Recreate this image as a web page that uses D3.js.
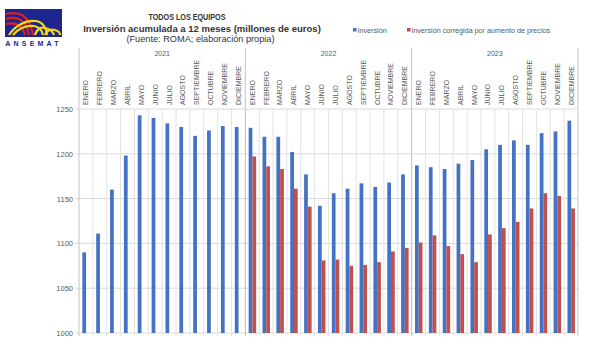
<!DOCTYPE html>
<html>
<head>
<meta charset="utf-8">
<script src="https://cdn.jsdelivr.net/npm/d3@7"></script>
<style>
  html, body { margin: 0; padding: 0; background: #fff; }
  svg { display: block; font-family: "Liberation Sans", Arial, sans-serif; }
</style>
</head>
<body>
<svg id="chart" width="590" height="340"></svg>
<script>
// Month names per year and the three years covered
const monthNames = ["ENERO", "FEBRERO", "MARZO", "ABRIL", "MAYO", "JUNIO", "JULIO",
  "AGOSTO", "SEPTIEMBRE", "OCTUBRE", "NOVIEMBRE", "DICIEMBRE"];
const years = ["2021", "2022", "2023"];

// Rolling 12-month investment (million euros)
const inversion = [
  1090, 1111, 1160, 1198, 1243, 1240, 1234, 1230, 1220, 1226, 1231, 1230,
  1229, 1219, 1219, 1202, 1177, 1142, 1156, 1161, 1167, 1163, 1168, 1177,
  1187, 1185, 1183, 1189, 1193, 1205, 1210, 1215, 1210, 1223, 1225, 1237
];
// Investment corrected for price increases (available from 2022)
const corregida = [
  null, null, null, null, null, null, null, null, null, null, null, null,
  1197, 1186, 1183, 1161, 1141, 1081, 1082, 1075, 1076, 1079, 1091, 1095,
  1101, 1109, 1097, 1088, 1079, 1110, 1117, 1124, 1139, 1156, 1153, 1139
];
const yTicks = [1000, 1050, 1100, 1150, 1200, 1250];

const seriesNames = ["Inversión", "Inversión corregida por aumento de precios"];
const colors = ["#4472C4", "#C0504D"];

const svg = d3.select("#chart");
const plot = { left: 79, right: 578, top: 109, bottom: 333, header: 48 };

const idx = d3.range(years.length * monthNames.length);
const x = d3.scaleBand().domain(idx).range([plot.left, plot.right]).padding(0);
const y = d3.scaleLinear().domain([1000, 1250]).range([plot.bottom, plot.top]);
const bw = x.bandwidth();

// ---- Logo ----
const logo = svg.append("g").attr("transform", "translate(5,9)");
logo.append("rect").attr("width", 57).attr("height", 28).attr("fill", "#1c2590");
const redPaths = [
  "M1,5 C14,2 24,5 28,26", "M1,10 C12,7 21,10 24,26", "M1,15 C10,13 17,15 20,26"
];
redPaths.forEach(p => logo.append("path").attr("d", p).attr("fill", "none")
  .attr("stroke", "#e0201c").attr("stroke-width", 2.2));
const yellowPaths = [
  "M4,26 C10,17 20,11 31,12 C38,13 41,18 42,26",
  "M8,26 C13,20 21,16 29,17 C35,18 37,21 38,26",
  "M30,26 C32,20 36,18 40,19 C46,20 48,23 49,26",
  "M40,26 C42,21 46,20 50,21 C54,22 55,24 55,26"
];
yellowPaths.forEach(p => logo.append("path").attr("d", p).attr("fill", "none")
  .attr("stroke", "#f5d90a").attr("stroke-width", 2.2));
svg.append("text").attr("x", 33.5).attr("y", 46).attr("text-anchor", "middle")
  .attr("font-size", 7).attr("font-weight", "bold").attr("fill", "#1c2590")
  .attr("letter-spacing", 3.2).text("ANSEMAT");

// ---- Titles ----
svg.append("text").attr("x", 187).attr("y", 20).attr("text-anchor", "middle")
  .attr("font-size", 8.2).attr("font-weight", "bold").attr("fill", "#333")
  .attr("textLength", 77).attr("lengthAdjust", "spacingAndGlyphs")
  .text("TODOS LOS EQUIPOS");
svg.append("text").attr("x", 202).attr("y", 32).attr("text-anchor", "middle")
  .attr("font-size", 9.5).attr("font-weight", "bold").attr("fill", "#333")
  .text("Inversión acumulada a 12 meses (millones de euros)");
svg.append("text").attr("x", 200.5).attr("y", 42).attr("text-anchor", "middle")
  .attr("font-size", 9.2).attr("fill", "#333")
  .text("(Fuente: ROMA; elaboración propia)");

// ---- Legend ----
const legendX = [353, 407];
seriesNames.forEach((name, i) => {
  const g = svg.append("g").attr("transform", `translate(${legendX[i]},31)`);
  g.append("rect").attr("x", 0).attr("y", -3).attr("width", 3.5).attr("height", 3.5)
    .attr("fill", colors[i]);
  g.append("text").attr("x", 4.5).attr("y", 1.5).attr("font-size", 7.2)
    .attr("fill", "#595959").text(name);
});

// ---- Grid ----
const grid = svg.append("g");
grid.selectAll("line.h").data(yTicks).join("line")
  .attr("x1", plot.left - 4).attr("x2", plot.right)
  .attr("y1", d => y(d)).attr("y2", d => y(d))
  .attr("stroke", "#d9d9d9").attr("stroke-width", 1);
grid.selectAll("line.v").data(idx.slice(1)).join("line")
  .attr("x1", d => x(d)).attr("x2", d => x(d))
  .attr("y1", plot.top).attr("y2", plot.bottom + 3)
  .attr("stroke", "#e3e3e3").attr("stroke-width", 1);

// Year separators spanning header and plot
const yearEdges = d3.range(years.length + 1).map(k => k * monthNames.length);
grid.selectAll("line.yr").data(yearEdges).join("line")
  .attr("x1", d => d === idx.length ? plot.right : x(d))
  .attr("x2", d => d === idx.length ? plot.right : x(d))
  .attr("y1", plot.header).attr("y2", plot.bottom + 3)
  .attr("stroke", "#c4c4c4").attr("stroke-width", 1);

// ---- Y axis labels ----
const yAxis = svg.append("g").attr("transform", `translate(${plot.left - 6},0)`)
  .call(d3.axisLeft(y).tickValues(yTicks).tickSize(0).tickPadding(0).tickFormat(d3.format("d")));
yAxis.select(".domain").remove();
yAxis.selectAll("text").attr("font-size", 7.5).attr("fill", "#595959")
  .attr("font-family", "Liberation Sans, Arial, sans-serif");

// ---- Header labels ----
svg.selectAll("text.year").data(years).join("text")
  .attr("class", "year")
  .attr("x", (d, i) => (x(i * 12) + (i === 2 ? plot.right : x(i * 12 + 12))) / 2)
  .attr("y", 56).attr("text-anchor", "middle")
  .attr("font-size", 7).attr("fill", "#595959").text(d => d);

svg.selectAll("text.month").data(idx).join("text")
  .attr("class", "month")
  .attr("transform", d => `translate(${x(d) + bw / 2 + 2.5},105) rotate(-90)`)
  .attr("font-size", 7).attr("fill", "#595959")
  .text(d => monthNames[d % 12]);

// ---- Bars ----
const bars = svg.append("g");
const offsets = [0.24, 0.51];
[inversion, corregida].forEach((vals, s) => {
  bars.selectAll(`rect.s${s}`).data(idx.filter(i => vals[i] != null)).join("rect")
    .attr("class", `s${s}`)
    .attr("x", i => x(i) + bw * offsets[s])
    .attr("width", bw * 0.27)
    .attr("y", i => y(vals[i]))
    .attr("height", i => y(1000) - y(vals[i]))
    .attr("fill", colors[s]);
});
</script>
</body>
</html>
